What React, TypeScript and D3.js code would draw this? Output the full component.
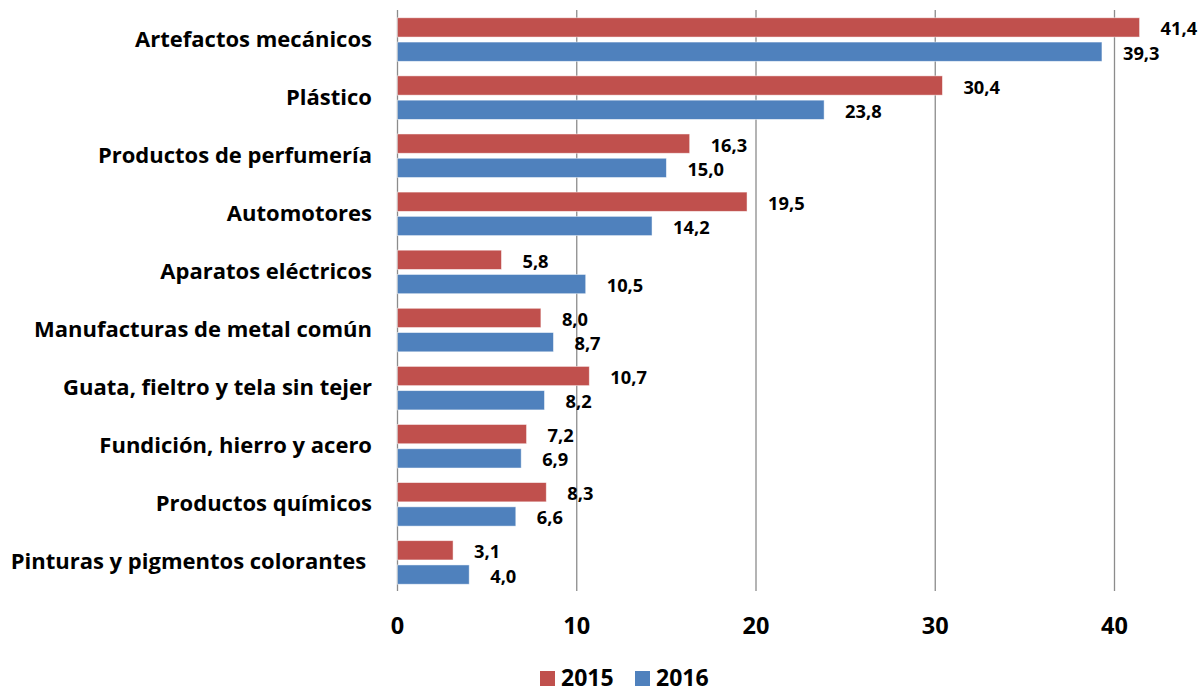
import * as d3 from "d3";

// valores (millones)
const categories = [
  "Artefactos mecánicos",
  "Plástico",
  "Productos de perfumería",
  "Automotores",
  "Aparatos eléctricos",
  "Manufacturas de metal común",
  "Guata, fieltro y tela sin tejer",
  "Fundición, hierro y acero",
  "Productos químicos",
  "Pinturas y pigmentos colorantes ",
];
const values2015 = [41.4, 30.4, 16.3, 19.5, 5.8, 8.0, 10.7, 7.2, 8.3, 3.1];
const values2016 = [39.3, 23.8, 15.0, 14.2, 10.5, 8.7, 8.2, 6.9, 6.6, 4.0];
const seriesNames = ["2015", "2016"];
const xTicks = [0, 10, 20, 30, 40];

const colors: Record<string, string> = { "2015": "#C0504D", "2016": "#4F81BD" };
const font = "'Open Sans', sans-serif";
const fmt = (v: number) => v.toFixed(1).replace(".", ",");

const App = () => {
  const width = 1204;
  const height = 692;

  const x = d3.scaleLinear().domain([0, 40]).range([397.5, 1114.5]);
  const y = d3.scaleBand<string>().domain(categories).range([10.5, 591.5]);
  const inner = d3
    .scaleBand<string>()
    .domain(seriesNames)
    .range([0, y.bandwidth()])
    .paddingInner(0.206)
    .paddingOuter(0.3);

  const series = [values2015, values2016];

  return (
    <svg
      width={width}
      height={height}
      style={{ position: "absolute", left: 0, top: 0, background: "#fff" }}
    >
      {/* grid */}
      {xTicks.map((t) => (
        <line
          key={t}
          x1={x(t)}
          x2={x(t)}
          y1={10}
          y2={591}
          stroke="#8c8c8c"
          strokeWidth={1.3}
        />
      ))}

      {/* barras */}
      {categories.map((c, i) => (
        <g key={c} transform={`translate(0, ${y(c)})`}>
          {seriesNames.map((s, j) => {
            const v = series[j][i];
            const by = inner(s)!;
            return (
              <g key={s}>
                <rect
                  x={x(0)}
                  y={by}
                  width={x(v) - x(0)}
                  height={inner.bandwidth()}
                  fill={colors[s]}
                  stroke="#ffffff"
                  strokeOpacity={0.6}
                  strokeWidth={0.8}
                />
                <text
                  x={x(v) + 21}
                  y={by + inner.bandwidth() / 2 + 8}
                  fontFamily={font}
                  fontWeight="bold"
                  fontSize={18.3}
                  fill="#000"
                >
                  {fmt(v)}
                </text>
              </g>
            );
          })}
          <text
            x={372}
            y={y.bandwidth() / 2 + 7}
            textAnchor="end"
            fontFamily={font}
            fontWeight="bold"
            fontSize={22}
            fill="#000"
            style={{ whiteSpace: "pre" }}
          >
            {c}
          </text>
        </g>
      ))}

      {/* eje x */}
      {xTicks.map((t) => (
        <text
          key={t}
          x={x(t)}
          y={634}
          textAnchor="middle"
          fontFamily={font}
          fontWeight="bold"
          fontSize={23.5}
          fill="#000"
        >
          {t}
        </text>
      ))}

      {/* leyenda */}
      {seriesNames.map((s, j) => {
        const lx = 540 + j * 95;
        return (
          <g key={s}>
            <rect x={lx} y={671} width={15} height={15} fill={colors[s]} />
            <text
              x={lx + 21}
              y={686}
              fontFamily={font}
              fontWeight="bold"
              fontSize={23}
              fill="#000"
            >
              {s}
            </text>
          </g>
        );
      })}
    </svg>
  );
};

export default App;
